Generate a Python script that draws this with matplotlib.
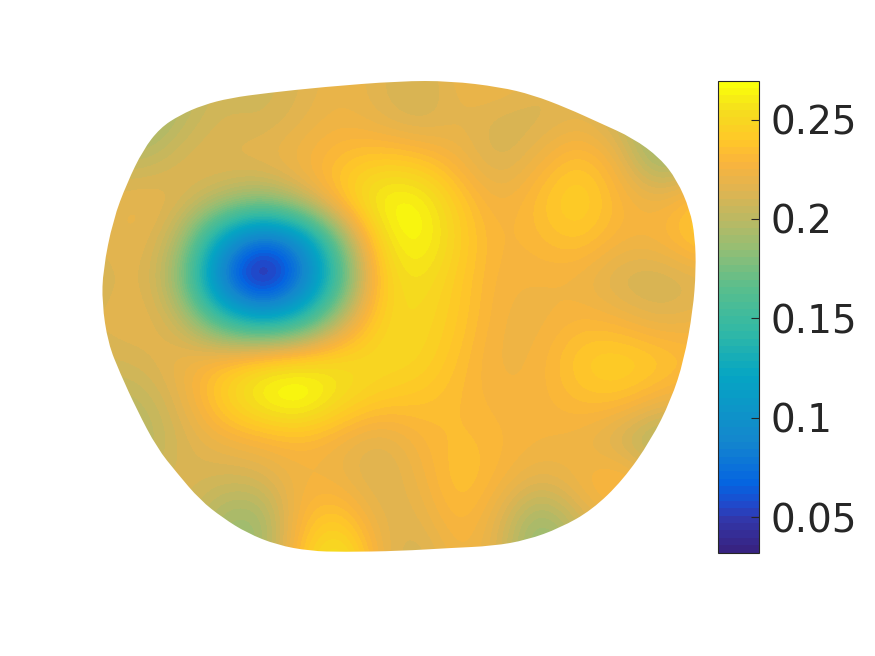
import numpy as np
import matplotlib
matplotlib.use("Agg")
import matplotlib.pyplot as plt
from matplotlib.colors import LinearSegmentedColormap
from matplotlib.patches import PathPatch
from matplotlib.path import Path

VMIN = 0.0324
VMAX = 0.2696
CBAR_TICKS = [0.05, 0.1, 0.15, 0.2, 0.25]
CBAR_LABELS = ["0.05", "0.1", "0.15", "0.2", "0.25"]

# sample positions of the field, in picture pixels
grid_x = [100, 140, 180, 220, 260, 300, 340, 380, 420, 460, 500, 540, 580, 620, 660, 700]
grid_y = [80, 120, 160, 200, 240, 280, 320, 360, 400, 440, 480, 520, 560]

field = [
    [.205, .190, .195, .210, .207, .213, .222, .215, .207, .222, .226, .215, .215, .210, .200, .200],
    [.205, .180, .200, .212, .208, .216, .224, .216, .208, .218, .210, .210, .218, .205, .180, .190],
    [.205, .200, .213, .216, .220, .226, .235, .242, .238, .224, .208, .224, .240, .222, .180, .200],
    [.215, .222, .216, .203, .188, .208, .242, .268, .268, .240, .222, .237, .250, .230, .222, .240],
    [.215, .220, .200, .110, .060, .085, .175, .255, .270, .245, .226, .232, .240, .226, .228, .245],
    [.208, .220, .185, .075, .020, .065, .150, .245, .258, .240, .226, .225, .222, .208, .205, .212],
    [.215, .220, .208, .150, .115, .135, .200, .250, .252, .240, .224, .222, .230, .226, .215, .222],
    [.210, .212, .222, .235, .250, .255, .255, .252, .250, .235, .222, .226, .243, .248, .243, .232],
    [.200, .200, .216, .245, .268, .278, .255, .242, .238, .232, .226, .226, .235, .238, .225, .220],
    [.190, .195, .210, .222, .226, .230, .222, .212, .228, .235, .230, .226, .222, .205, .185, .195],
    [.200, .205, .215, .208, .210, .225, .222, .210, .222, .240, .228, .215, .226, .240, .220, .220],
    [.200, .205, .215, .190, .183, .232, .245, .215, .215, .235, .215, .180, .210, .225, .220, .220],
    [.200, .200, .200, .190, .185, .240, .270, .220, .205, .228, .215, .175, .200, .200, .200, .200],
]

# outline of the domain, in picture pixels
outline_x = [400, 450, 500, 533, 567, 600, 633, 660, 677, 690, 695, 696, 693, 684, 671, 651,
             623, 592, 560, 527, 493, 450, 400, 343, 310, 277, 247, 223, 200, 177, 157, 137,
             120, 108, 102, 103, 113, 127, 143, 160, 180, 203, 230, 267, 323]
outline_y = [81, 81, 87, 95, 108, 123, 138, 158, 180, 210, 237, 270, 310, 360, 400, 440,
             480, 510, 528, 540, 546, 548, 551, 552, 551, 545, 533, 518, 500, 473, 448, 410,
             373, 343, 303, 270, 220, 183, 150, 128, 115, 105, 98, 93, 87]

# colormap
cmap_pos = [0, .064, .09, .14, .233, .373, .47, .563, .648, .705, .775, .833, .88, .94, 1]
cmap_rgb = [(55, 35, 130), (50, 55, 170), (35, 70, 200), (5, 100, 225), (20, 135, 205),
            (5, 165, 195), (50, 185, 165), (90, 190, 140), (150, 190, 115), (185, 185, 100),
            (225, 180, 80), (250, 180, 60), (255, 200, 40), (245, 220, 30), (250, 255, 10)]


def closed_smooth_path(xs, ys):
    pts = np.column_stack([xs, ys]).astype(float)
    mids = (pts + np.roll(pts, -1, axis=0)) / 2
    verts = [mids[-1]]
    codes = [Path.MOVETO]
    for p, m in zip(pts, mids):
        verts += [p, m]
        codes += [Path.CURVE3, Path.CURVE3]
    return Path(verts, codes)


def main():
    colors = [tuple(c / 255 for c in rgb) for rgb in cmap_rgb]
    cmap = LinearSegmentedColormap.from_list("parula_like", list(zip(cmap_pos, colors)), N=64)

    fig = plt.figure(figsize=(8.75, 6.56), dpi=100)
    ax = fig.add_axes([0, 0, 1, 1])

    dx = grid_x[1] - grid_x[0]
    dy = grid_y[1] - grid_y[0]
    extent = (grid_x[0] - dx / 2, grid_x[-1] + dx / 2, grid_y[-1] + dy / 2, grid_y[0] - dy / 2)
    im = ax.imshow(np.array(field), extent=extent, origin="upper", cmap=cmap, vmin=VMIN, vmax=VMAX,
                   interpolation="bicubic", interpolation_stage="data", aspect="auto")

    patch = PathPatch(closed_smooth_path(outline_x, outline_y), facecolor="none", edgecolor="none",
                      transform=ax.transData)
    ax.add_patch(patch)
    im.set_clip_path(patch)

    ax.set_xlim(0, 875)
    ax.set_ylim(656, 0)
    ax.axis("off")

    cax = fig.add_axes([718.2 / 875, 1 - 552.5 / 656, 41 / 875, 472 / 656])
    cb = fig.colorbar(im, cax=cax, ticks=CBAR_TICKS)
    cb.ax.set_yticklabels(CBAR_LABELS)
    cb.ax.tick_params(direction="in", length=5.5, width=0.8, color="#262626", labelsize=28,
                      labelcolor="#262626", pad=8)
    cb.outline.set_edgecolor("#262626")
    cb.outline.set_linewidth(0.8)

    fig.savefig("out.png", dpi=100)


if __name__ == "__main__":
    main()
